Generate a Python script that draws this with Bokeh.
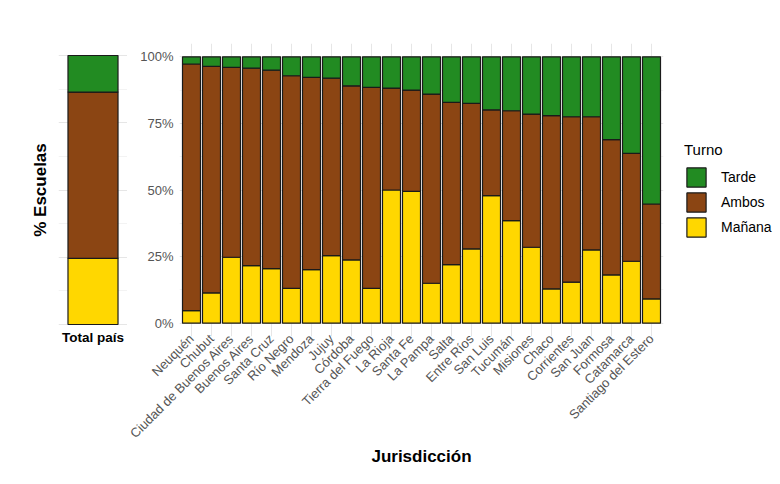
from math import pi
from bokeh.plotting import figure
from bokeh.layouts import row
from bokeh.models import (FactorRange, Range1d, FixedTicker, NumeralTickFormatter,
                          Legend, LegendItem, ColumnDataSource)
from bokeh.embed import file_html
from bokeh.resources import INLINE

# ---------------- data ----------------
jurisdicciones = ["Neuquén", "Chubut", "Ciudad de Buenos Aires", "Buenos Aires", "Santa Cruz",
                  "Río Negro", "Mendoza", "Jujuy", "Córdoba", "Tierra del Fuego", "La Rioja",
                  "Santa Fe", "La Pampa", "Salta", "Entre Ríos", "San Luis", "Tucumán",
                  "Misiones", "Chaco", "Corrientes", "San Juan", "Formosa", "Catamarca",
                  "Santiago del Estero"]
manana = [4.75, 11.4, 24.75, 21.6, 20.5, 13.1, 20.1, 25.4, 23.75, 13.1, 50.0, 49.5,
          15.0, 22.0, 27.9, 47.9, 38.5, 28.5, 12.9, 15.4, 27.5, 18.1, 23.25, 9.1]
ambos = [92.55, 85.0, 71.25, 74.15, 74.5, 79.8, 72.15, 66.6, 65.35, 75.4, 38.25, 38.0,
         71.0, 60.9, 54.6, 32.2, 41.25, 50.0, 65.0, 62.1, 50.0, 50.8, 40.5, 35.65]
tarde = [2.7, 3.6, 4.0, 4.25, 5.0, 7.1, 7.75, 8.0, 10.9, 11.5, 11.75, 12.5,
         14.0, 17.1, 17.5, 19.9, 20.25, 21.5, 22.1, 22.5, 22.5, 31.1, 36.25, 55.25]

total_label = ["Total país"]
total_manana = [24.6]
total_ambos = [61.8]
total_tarde = [13.6]

turnos = ["Mañana", "Ambos", "Tarde"]
colores = ["#FFD700", "#8B4513", "#228B22"]
y_ticks = [0, 0.25, 0.5, 0.75, 1.0]
y_minor = [0.125, 0.375, 0.625, 0.875]

FONT = "Liberation Sans"
GRID = "#e6e6e6"
MINOR = "#f3f3f3"
OUT = "#1a1a1a"
TOP, BOTTOM = 43, 148

# ---------------- left panel: total ----------------
src_t = ColumnDataSource(dict(x=total_label,
                              **{"Mañana": [v / 100 for v in total_manana],
                                 "Ambos": [v / 100 for v in total_ambos],
                                 "Tarde": [v / 100 for v in total_tarde]}))
left = figure(width=127, height=484, output_backend="svg", toolbar_location=None,
              x_range=FactorRange(factors=total_label, range_padding=0.1, range_padding_units="absolute"),
              y_range=Range1d(-0.0446, 1.0446),
              min_border_left=58, min_border_right=0, min_border_top=TOP, min_border_bottom=BOTTOM)
left.vbar_stack(turnos, x="x", width=0.87, source=src_t, fill_color=colores,
                line_color=OUT, line_width=1.2)
left.outline_line_color = None
left.yaxis.ticker = FixedTicker(ticks=[])
left.yaxis.axis_line_color = None
left.yaxis.major_tick_line_color = None
left.yaxis.minor_tick_line_color = None
left.yaxis.axis_label = "% Escuelas"
left.yaxis.axis_label_text_font = FONT
left.yaxis.axis_label_text_font_size = "17px"
left.yaxis.axis_label_text_font_style = "bold"
left.yaxis.axis_label_text_color = "black"
left.yaxis.axis_label_standoff = 9
left.ygrid.ticker = FixedTicker(ticks=y_ticks, minor_ticks=y_minor)
left.ygrid.grid_line_color = GRID
left.ygrid.minor_grid_line_color = MINOR
left.xgrid.grid_line_color = None
left.xaxis.axis_line_color = None
left.xaxis.major_tick_line_color = None
left.xaxis.major_tick_out = 0
left.xaxis.major_tick_in = 0
left.xaxis.major_label_text_font = FONT
left.xaxis.major_label_text_font_size = "13.5px"
left.xaxis.major_label_text_font_style = "bold"
left.xaxis.major_label_text_color = "black"
left.xaxis.major_label_standoff = -7

# ---------------- right panel: jurisdictions ----------------
src = ColumnDataSource(dict(x=jurisdicciones,
                            **{"Mañana": [v / 100 for v in manana],
                               "Ambos": [v / 100 for v in ambos],
                               "Tarde": [v / 100 for v in tarde]}))
right = figure(width=541, height=484, output_backend="svg", toolbar_location=None,
               x_range=FactorRange(factors=jurisdicciones, range_padding=0.1, range_padding_units="absolute"),
               y_range=Range1d(-0.05, 1.05),
               min_border_left=52, min_border_right=5, min_border_top=TOP, min_border_bottom=BOTTOM)
rs = right.vbar_stack(turnos, x="x", width=0.9, source=src, fill_color=colores,
                      line_color=OUT, line_width=1.2)
right.outline_line_color = None
right.yaxis.ticker = FixedTicker(ticks=y_ticks)
right.yaxis.formatter = NumeralTickFormatter(format="0%")
right.yaxis.axis_line_color = None
right.yaxis.major_tick_line_color = None
right.yaxis.minor_tick_line_color = None
right.yaxis.major_tick_out = 0
right.yaxis.major_tick_in = 0
right.yaxis.minor_tick_out = 0
right.yaxis.major_label_text_font = FONT
right.yaxis.major_label_text_font_size = "13px"
right.yaxis.major_label_text_color = "#555555"
right.yaxis.major_label_standoff = 6
right.ygrid.ticker = FixedTicker(ticks=y_ticks, minor_ticks=y_minor)
right.ygrid.grid_line_color = GRID
right.ygrid.minor_grid_line_color = MINOR
right.xgrid.grid_line_color = GRID
right.xaxis.axis_line_color = None
right.xaxis.major_tick_line_color = None
right.xaxis.major_tick_out = 0
right.xaxis.major_tick_in = 0
right.xaxis.major_label_orientation = pi / 4
right.xaxis.major_label_text_font = FONT
right.xaxis.major_label_text_font_size = "13px"
right.xaxis.major_label_text_color = "#555555"
right.xaxis.major_label_standoff = 0
right.xaxis.axis_label = "Jurisdicción"
right.xaxis.axis_label_text_font = FONT
right.xaxis.axis_label_text_font_size = "17px"
right.xaxis.axis_label_text_font_style = "bold"
right.xaxis.axis_label_text_color = "black"
right.xaxis.axis_label_standoff = -2

# ---------------- legend panel ----------------
leg = figure(width=112, height=484, output_backend="svg", toolbar_location=None,
             x_range=Range1d(0, 1), y_range=Range1d(0, 1),
             min_border_left=0, min_border_right=0, min_border_top=TOP, min_border_bottom=BOTTOM)
leg.axis.visible = False
leg.grid.grid_line_color = None
leg.outline_line_color = None
# zero-size proxy bars hidden behind the (opaque) legend box
src_leg = ColumnDataSource(dict(x=[0.5], bottom=[0.5], top=[0.5]))
leg_r = {t: leg.vbar(x="x", bottom="bottom", top="top", width=0.001, source=src_leg, fill_color=c,
                     line_color=OUT, line_width=1.2)
         for t, c in zip(turnos, colores)}
legend = Legend(items=[LegendItem(label=t, renderers=[leg_r[t]]) for t in ["Tarde", "Ambos", "Mañana"]],
                location="left", title="Turno",
                title_text_font=FONT, title_text_font_size="15px", title_text_color="black",
                title_text_font_style="normal", title_standoff=7,
                label_text_font=FONT, label_text_font_size="14px", label_text_color="black",
                glyph_width=24, glyph_height=24, label_height=24, spacing=1,
                label_standoff=13, padding=5, margin=16,
                border_line_color=None, background_fill_color="white", background_fill_alpha=1.0)
leg.add_layout(legend)

layout = row(left, right, leg)
open("out.html", "w").write(file_html(layout, INLINE))
